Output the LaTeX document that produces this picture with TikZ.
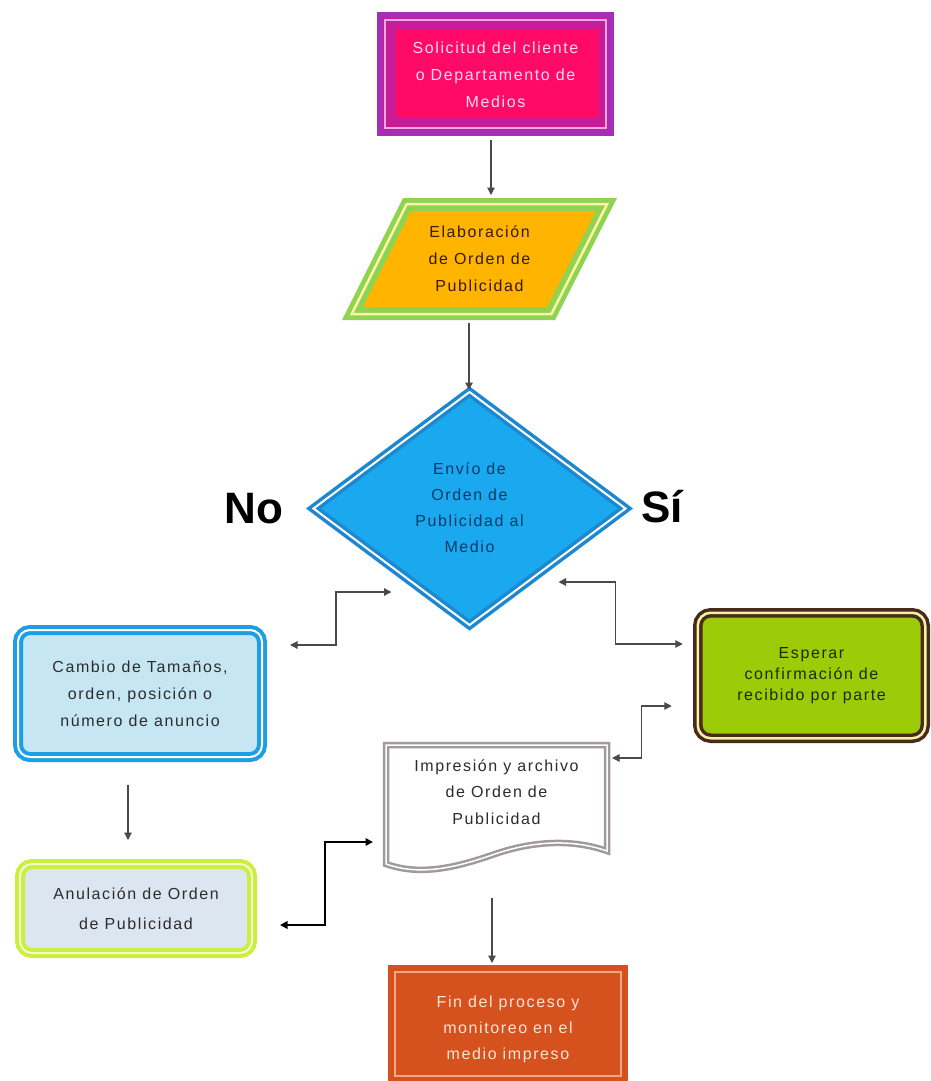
\documentclass[tikz,border=0pt]{standalone}
\usepackage{fontspec}
\setmainfont{Liberation Sans}
\usetikzlibrary{shapes.geometric,arrows.meta,calc}
\definecolor{solpurple}{HTML}{A62DB4}
\definecolor{solmag}{HTML}{C81C96}
\definecolor{solpink}{HTML}{F7A8E4}
\definecolor{solred}{HTML}{FF0A66}
\definecolor{soltext}{HTML}{FFD8EE}
\definecolor{elagreen}{HTML}{8ED452}
\definecolor{elacream}{HTML}{FFF3A6}
\definecolor{elaorange}{HTML}{FFB400}
\definecolor{elatext}{HTML}{3A1A00}
\definecolor{envborder}{HTML}{1C88CF}
\definecolor{envblue}{HTML}{1AA8EE}
\definecolor{envtext}{HTML}{0E3A6A}
\definecolor{cambblue}{HTML}{1E9EE4}
\definecolor{cambfill}{HTML}{C6E6F4}
\definecolor{espbrown}{HTML}{4A2A18}
\definecolor{espcream}{HTML}{F2F2A8}
\definecolor{esplime}{HTML}{9CCB08}
\definecolor{esptext}{HTML}{1E2A00}
\definecolor{impgray}{HTML}{A09A9A}
\definecolor{anugreen}{HTML}{CCEE40}
\definecolor{anulight}{HTML}{F2FFD0}
\definecolor{anufill}{HTML}{DCE6F0}
\definecolor{finorange}{HTML}{D5521E}
\definecolor{finline}{HTML}{F2A884}
\definecolor{fintext}{HTML}{FFE4D6}
\definecolor{darktext}{HTML}{2C2C2C}
\definecolor{linec}{HTML}{4A4A4A}
\begin{document}
\begin{tikzpicture}[x=1pt,y=-1pt,
  lbl/.style={font=\fontsize{16}{27}\selectfont\addfontfeature{LetterSpace=10}, align=center, inner sep=0pt, outer sep=0pt},
  yn/.style={font=\fontsize{44}{44}\selectfont\bfseries, text=black, inner sep=0pt},
  arr/.style={draw=linec, line width=1.2pt, -{Triangle[length=7.5pt,width=7.5pt]}},
  arrb/.style={draw=linec, line width=1.2pt, {Triangle[length=7.5pt,width=7.5pt]}-{Triangle[length=7.5pt,width=7.5pt]}},
  arrbold/.style={draw=black, line width=1.8pt, {Triangle[length=7.5pt,width=7.5pt]}-{Triangle[length=7.5pt,width=7.5pt]}},
  rbox/.style={lbl, rounded corners=12pt, line width=4pt, double distance=2pt}
]
\useasboundingbox (0,0) rectangle (931,1081);
\fill[white] (0,0) rectangle (931,1081);

% --- Solicitud box
\fill[solpurple] (377,12) rectangle (614,136);
\fill[solmag] (383,18) rectangle (608,130);
\draw[solpink, line width=2pt] (385,20) rectangle (606,128);
\fill[solred] (396,29) rectangle (599,117);
\node[lbl, text=soltext, minimum width=237, minimum height=124] (sol) at (495.5,75)
  {Solicitud del cliente\\o Departamento de\\Medios};

% --- Elaboracion parallelogram
\fill[elagreen] (403,198) -- (617,198) -- (555,320) -- (342,320) -- cycle;
\draw[elacream, line width=2.5pt] (406.7,204) -- (607.2,204) -- (551.4,314) -- (351.7,314) -- cycle;
\fill[elaorange] (411,211) -- (595.9,211) -- (547.1,307) -- (363,307) -- cycle;
\node[lbl, text=elatext, minimum width=275, minimum height=122] (ela) at (479.5,259)
  {Elaboración\\de Orden de\\Publicidad};

% --- Envio diamond
\node[diamond, lbl, text=envtext, draw=envborder, double=white, line width=3.5pt,
      double distance=2pt, fill=envblue, minimum width=312, minimum height=233,
      font=\fontsize{16}{26}\selectfont\addfontfeature{LetterSpace=10}] (env) at (469.5,508.5)
  {\raisebox{-5pt}{\begin{tabular}{@{}c@{}}Envío de\\Orden de\\Publicidad al\\Medio\end{tabular}}};
\node[yn] (no) at (254,509) {No};
\node[yn] (si) at (662,507) {Sí};

% --- Cambio box
\node[rbox, text=darktext, draw=cambblue, double=white, fill=cambfill,
      minimum width=244, minimum height=127] (cam) at (140,693.5)
  {Cambio de Tamaños,\\orden, posición o\\número de anuncio};

% --- Esperar box
\node[rbox, text=esptext, draw=espbrown, double=espcream, fill=esplime,
      line width=3.5pt, double distance=2.5pt, rounded corners=13pt,
      minimum width=227.5, minimum height=125.5,
      font=\fontsize{16}{21}\selectfont\addfontfeature{LetterSpace=10}] (esp) at (811.5,675.5)
  {Esperar\\confirmación de\\recibido por parte};

% --- Impresion document
\draw[impgray, double=white, line width=2.5pt, double distance=1.5pt, fill=white]
  (386,745) -- (607,745) -- (607,851)
  .. controls (570,838) and (530,842) .. (495,854)
  .. controls (455,868) and (420,876) .. (386,864) -- cycle;
\node[lbl, text=darktext, minimum width=227, minimum height=100,
      font=\fontsize{16}{26.5}\selectfont\addfontfeature{LetterSpace=10}] (imp) at (496.5,792)
  {Impresión y archivo\\de Orden de\\Publicidad};

% --- Anulacion box
\node[rbox, text=darktext, draw=anugreen, double=anulight, fill=anufill,
      minimum width=232, minimum height=89,
      font=\fontsize{16}{30}\selectfont\addfontfeature{LetterSpace=10}] (anu) at (136,908.5)
  {Anulación de Orden\\de Publicidad};

% --- Fin box
\fill[finorange] (388,965) rectangle (628,1081);
\draw[finline, line width=1.5pt] (395,972) rectangle (621,1076);
\node[lbl, text=fintext, minimum width=240, minimum height=116,
      font=\fontsize{16}{26}\selectfont\addfontfeature{LetterSpace=10}] (fin) at (508,1029)
  {Fin del proceso y\\monitoreo en el\\medio impreso};

% --- Connectors
\draw[arr] ($(sol.south)+(-4.5,3)$) -- ($(ela.north)+(11.5,-3)$);
\draw[arr] ($(ela.south)+(-10.5,3)$) -- ($(env.north)+(-0.5,-2)$);
\draw[arrb] ($(cam.east)+(28,-48.5)$) -- ++(46,0) |- ($(env.west)+(78,83.5)$);
\draw[arrb] ($(env.east)+(-67,73.5)$) -- ++(57,0) |- ($(esp.west)+(-15,-31.5)$);
\draw[arrb] ($(esp.west)+(-26,30.5)$) -- ++(-30,0) |- ($(imp.east)+(2,-34)$);
\draw[arrbold] ($(anu.east)+(28,16.5)$) -- ++(45,0) |- ($(imp.west)+(-10,50)$);
\draw[arr] ($(cam.south)+(-12,28)$) -- ++(0,55);
\draw[arr] ($(imp.south)+(-4.5,56)$) -- ($(fin.north)+(-16,-8)$);
\end{tikzpicture}
\end{document}
